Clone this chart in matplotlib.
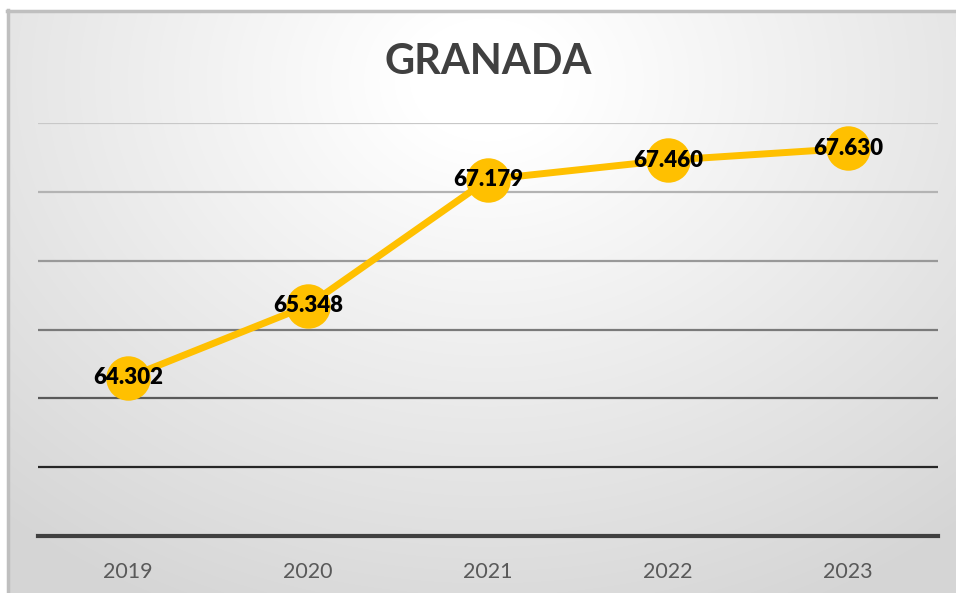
import numpy as np
import matplotlib.pyplot as plt
from matplotlib.colors import LinearSegmentedColormap

years = ['2019', '2020', '2021', '2022', '2023']
values = [64.302, 65.348, 67.179, 67.460, 67.630]
labels = ['64.302', '65.348', '67.179', '67.460', '67.630']
grid_levels = [63, 64, 65, 66, 67, 68]
grid_colors = ['#262626', '#595959', '#7a7a7a', '#999999', '#b3b3b3', '#c8c8c8']

W, H = 956, 593
fig = plt.figure(figsize=(W / 100, H / 100), dpi=100)
fig.patch.set_facecolor('white')

# background gradient inside the chart frame
bg = fig.add_axes([7 / W, 0, 1 - 7 / W, 1 - 10 / H])
bg.set_axis_off()
yy, xx = np.mgrid[0:583, 0:949]
cx, cy = 480, 70
d = np.sqrt(((xx - cx) / 1.25) ** 2 + (yy - cy) ** 2)
d = np.clip((d - 60) / 520, 0, 1)
cmap = LinearSegmentedColormap.from_list('bgc', ['#ffffff', '#d6d6d6'])
bg.imshow(d, cmap=cmap, aspect='auto', extent=[0, 1, 0, 1], origin='upper')
bg.set_xlim(0, 1)
bg.set_ylim(0, 1)
bg.plot([0.0015, 0.0015], [0, 1], color='#bfbfbf', lw=2.5, clip_on=False)
bg.plot([0, 1], [0.998, 0.998], color='#bfbfbf', lw=2.5, clip_on=False)

ax = fig.add_axes([38 / W, 1 - 536 / H, 900 / W, 413 / H])
ax.patch.set_alpha(0)
x = np.arange(len(years))
ax.set_xlim(-0.5, len(years) - 0.5)
ax.set_ylim(62, 68)

for lvl, c in zip(grid_levels, grid_colors):
    ax.axhline(lvl, color=c, lw=1.6, zorder=1)
ax.axhline(62, color='#404040', lw=3, zorder=1, clip_on=False)

ax.plot(x, values, color='#ffc000', lw=5, marker='o', markersize=32,
        markeredgewidth=0, zorder=3)
for xi, v, t in zip(x, values, labels):
    ax.text(xi, v, t, ha='center', va='center', fontsize=16, fontweight='heavy',
            family='Lato', color='black', zorder=4)

for s in ax.spines.values():
    s.set_visible(False)
ax.set_yticks([])
ax.set_xticks(x)
ax.set_xticklabels(years, family='Lato', fontsize=15.5, color='#595959')
ax.tick_params(axis='x', length=0, pad=19)

fig.text(488 / W, 1 - 62 / H, 'GRANADA', ha='center', va='center',
         fontsize=30, fontweight='bold', family='Lato', color='#404040')

fig.savefig('out.png', dpi=100)
